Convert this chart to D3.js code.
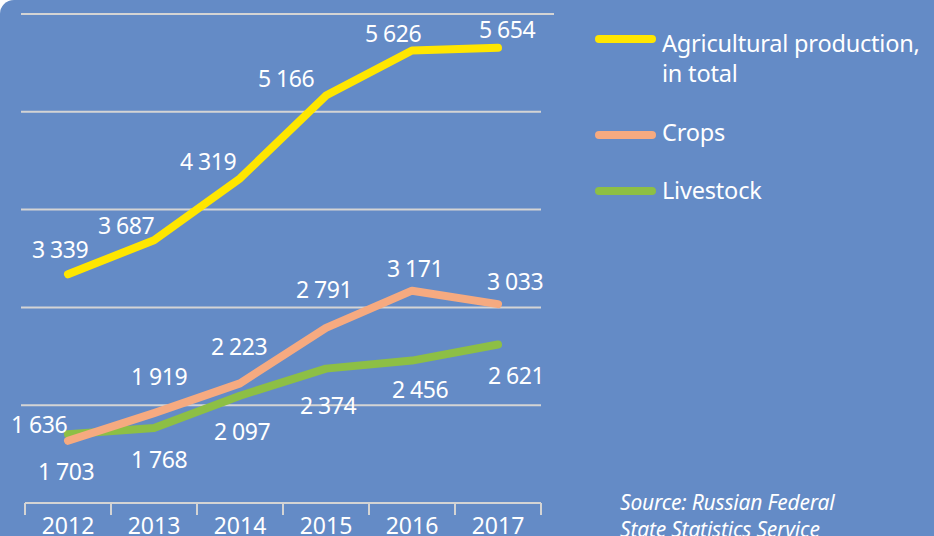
<!DOCTYPE html>
<html>
<head>
<meta charset="utf-8">
<script src="https://cdn.jsdelivr.net/npm/d3@7"></script>
<style>
  html, body { margin: 0; padding: 0; background: #ffffff; }
  svg { display: block; }
  text { font-family: "Noto Sans", "Open Sans", sans-serif; fill: #ffffff; }
</style>
</head>
<body>
<svg width="934" height="536"></svg>
<script>
const years = ['2012', '2013', '2014', '2015', '2016', '2017'];
const totalValues = [3339, 3687, 4319, 5166, 5626, 5654];
const cropValues = [1636, 1919, 2223, 2791, 3171, 3033];
const livestockValues = [1703, 1768, 2097, 2374, 2456, 2621];
const seriesNames = ['Agricultural production,|in total', 'Crops', 'Livestock'];
const sourceLines = ['Source: Russian Federal', 'State Statistics Service'];

const width = 934;
const height = 536;
const bg = '#648bc6';
const gridColor = '#d4d4d4';
const colors = ['#ffe600', '#f6aa80', '#8dbf45'];

// where each value label sits relative to its point (text centre)
const labelNudge = [
    [[-8, -25], [-28, -15], [-32, -17], [-40, -18], [-19, -18], [9, -19]],
    [[-29, -17], [5, -37], [-1, -37], [-2, -39], [3, -23], [17, -23]],
    [[-2, 37], [5, 31], [2, 35], [2, 36], [8, 28], [18, 31]]
];

const series = [totalValues, cropValues, livestockValues].map((vals, i) => ({
    name: seriesNames[i],
    color: colors[i],
    values: vals.map((v, j) => ({ year: years[j], value: v, nudge: labelNudge[i][j] }))
}));

const svg = d3.select('svg')
    .attr('width', width)
    .attr('height', height);

svg.append('rect')
    .attr('x', 0)
    .attr('y', 0)
    .attr('width', width + 40)
    .attr('height', height + 40)
    .attr('rx', 14)
    .attr('fill', bg);

const xScale = d3.scaleBand()
    .domain(years)
    .range([25, 541]);

const yScale = d3.scaleLinear()
    .domain([1000, 6000])
    .range([503, 14]);

// gridlines
svg.append('g')
    .classed('grid', true)
    .selectAll('line')
    .data(yScale.ticks(5).filter(d => d > 1000))
    .enter()
    .append('line')
    .attr('x1', 21)
    .attr('x2', d => d === 6000 ? 554 : 541)
    .attr('y1', d => yScale(d))
    .attr('y2', d => yScale(d))
    .attr('stroke', gridColor)
    .attr('stroke-width', 2);

// bottom axis with ticks at band edges
const xAxis = svg.append('g')
    .classed('x-axis', true)
    .attr('transform', `translate(0, ${yScale(1000)})`);

xAxis.append('line')
    .attr('x1', xScale.range()[0])
    .attr('x2', xScale.range()[1])
    .attr('stroke', gridColor)
    .attr('stroke-width', 2);

xAxis.selectAll('.tick-mark')
    .data(years.map(y => xScale(y)).concat([xScale.range()[1]]))
    .enter()
    .append('line')
    .classed('tick-mark', true)
    .attr('x1', d => d)
    .attr('x2', d => d)
    .attr('y1', 0)
    .attr('y2', 12)
    .attr('stroke', gridColor)
    .attr('stroke-width', 2);

xAxis.selectAll('.year')
    .data(years)
    .enter()
    .append('text')
    .classed('year', true)
    .attr('x', d => xScale(d) + xScale.bandwidth() / 2)
    .attr('y', 31)
    .style('text-anchor', 'middle')
    .style('font-size', '23px')
    .text(d => d);

const line = d3.line()
    .x(d => xScale(d.year) + xScale.bandwidth() / 2)
    .y(d => yScale(d.value));

// draw livestock first, then crops, then total
series.slice().reverse().forEach(s => {
    svg.append('path')
        .datum(s.values)
        .attr('d', line)
        .attr('fill', 'none')
        .attr('stroke', s.color)
        .attr('stroke-width', 8)
        .attr('stroke-linecap', 'round')
        .attr('stroke-linejoin', 'round');
});

series.forEach(s => {
    svg.append('g')
        .selectAll('text')
        .data(s.values)
        .enter()
        .append('text')
        .attr('x', d => xScale(d.year) + xScale.bandwidth() / 2 + d.nudge[0])
        .attr('y', d => yScale(d.value) + d.nudge[1] + 9)
        .style('text-anchor', 'middle')
        .style('font-size', '23px')
        .style('letter-spacing', '-0.5px')
        .text(d => d3.format(',')(d.value).replace(',', ' '));
});

// legend
const legendY = [39, 135, 191];
const legendTextY = [[52, 82], [141], [199]];
const legend = svg.append('g').classed('legend', true);

series.forEach((s, i) => {
    legend.append('line')
        .attr('x1', 599)
        .attr('x2', 652)
        .attr('y1', legendY[i])
        .attr('y2', legendY[i])
        .attr('stroke', s.color)
        .attr('stroke-width', 8)
        .attr('stroke-linecap', 'round');
    s.name.split('|').forEach((t, k) => {
        legend.append('text')
            .attr('x', 662)
            .attr('y', legendTextY[i][k])
            .style('font-size', '23.5px')
            .style('letter-spacing', '-0.2px')
            .text(t);
    });
});

svg.selectAll('.source')
    .data(sourceLines)
    .enter()
    .append('text')
    .classed('source', true)
    .attr('x', 620)
    .attr('y', (d, i) => 510 + i * 27)
    .style('font-size', '21px')
    .style('font-style', 'italic')
    .style('letter-spacing', '-0.2px')
    .text(d => d);
</script>
</body>
</html>
